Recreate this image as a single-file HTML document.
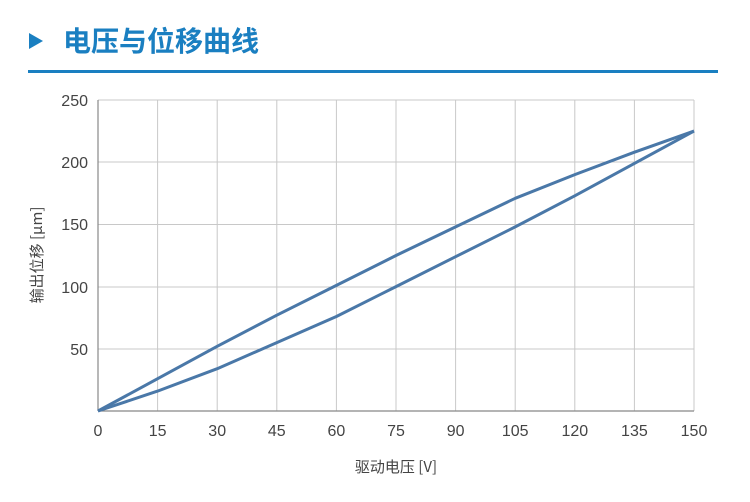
<!DOCTYPE html>
<html><head><meta charset="utf-8"><style>
body{margin:0;background:#fff;width:750px;height:497px;overflow:hidden}
</style></head><body>
<svg width="750" height="497" xmlns="http://www.w3.org/2000/svg" font-family="Liberation Sans, Noto Sans CJK SC, sans-serif">
<polygon points="29,33 29,49 43,41" fill="#1a7fc1"/>
<text x="63" y="51" font-size="28" font-weight="bold" fill="#1a7fc1" font-family="Noto Sans CJK SC, sans-serif">电压与位移曲线</text>
<rect x="28" y="70" width="690" height="3" fill="#1a7fc1"/>
<g stroke="#c8c8c8" stroke-width="1">
<line x1="157.6" y1="100" x2="157.6" y2="411"/><line x1="217.2" y1="100" x2="217.2" y2="411"/>
<line x1="276.8" y1="100" x2="276.8" y2="411"/><line x1="336.4" y1="100" x2="336.4" y2="411"/>
<line x1="396" y1="100" x2="396" y2="411"/><line x1="455.6" y1="100" x2="455.6" y2="411"/>
<line x1="515.2" y1="100" x2="515.2" y2="411"/><line x1="574.8" y1="100" x2="574.8" y2="411"/>
<line x1="634.4" y1="100" x2="634.4" y2="411"/><line x1="694" y1="100" x2="694" y2="411"/>
<line x1="98" y1="100" x2="694" y2="100"/><line x1="98" y1="162" x2="694" y2="162"/>
<line x1="98" y1="224.5" x2="694" y2="224.5"/><line x1="98" y1="287" x2="694" y2="287"/>
<line x1="98" y1="349" x2="694" y2="349"/>
</g>
<g stroke="#888" stroke-width="1.2"><line x1="98" y1="100" x2="98" y2="411"/><line x1="98" y1="411" x2="694" y2="411"/></g>
<g font-size="16" fill="#444" text-anchor="end">
<text x="88" y="106">250</text><text x="88" y="168">200</text><text x="88" y="230">150</text><text x="88" y="293">100</text><text x="88" y="355">50</text>
</g>
<g font-size="16" fill="#444" text-anchor="middle">
<text x="98" y="436">0</text><text x="157.6" y="436">15</text><text x="217.2" y="436">30</text><text x="276.8" y="436">45</text><text x="336.4" y="436">60</text><text x="396" y="436">75</text><text x="455.6" y="436">90</text><text x="515.2" y="436">105</text><text x="574.8" y="436">120</text><text x="634.4" y="436">135</text><text x="694" y="436">150</text>
<text x="396" y="472" font-size="15" font-family="Noto Sans CJK SC, sans-serif">驱动电压 [V]</text>
</g>
<text transform="translate(42,255) rotate(-90)" font-size="15" fill="#444" text-anchor="middle" font-family="Noto Sans CJK SC, sans-serif">输出位移 [μm]</text>
<g fill="none" stroke="#4a78a8" stroke-width="3" stroke-linejoin="round">
<polyline points="98,411 157.6,378.7 217.2,346.3 276.8,315.2 336.4,285.4 396,255.5 455.6,226.9 515.2,198.3 574.8,174.6 634.4,152.2 694,131.1"/>
<polyline points="98,411 157.6,391.1 217.2,368.7 276.8,342.6 336.4,316.5 396,286.6 455.6,256.7 515.2,226.9 574.8,195.8 634.4,163.4 694,131.1"/>
</g>
</svg>
</body></html>
